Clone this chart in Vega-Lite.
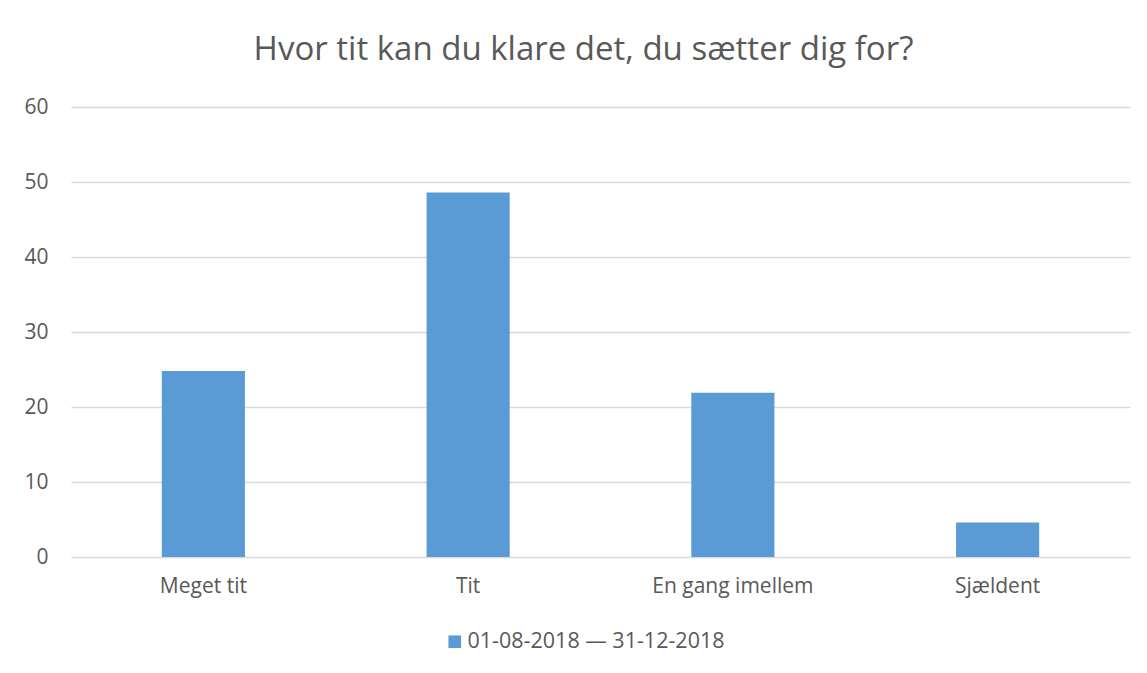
{
  "$schema": "https://vega.github.io/schema/vega-lite/v6.json",
  "autosize": "none",
  "width": 1059,
  "height": 450,
  "padding": {"left": 71, "top": 107, "right": 17, "bottom": 116},
  "background": "white",
  "title": {
    "text": "Hvor tit kan du klare det, du sætter dig for?",
    "font": "Open Sans",
    "fontSize": 33,
    "fontWeight": "normal",
    "color": "#595959",
    "anchor": "middle",
    "offset": 29,
    "dx": -17
  },
  "data": {
    "values": [
      {"svar": "Meget tit", "pct": 24.8, "periode": "01-08-2018 — 31-12-2018"},
      {"svar": "Tit", "pct": 48.6, "periode": "01-08-2018 — 31-12-2018"},
      {"svar": "En gang imellem", "pct": 21.9, "periode": "01-08-2018 — 31-12-2018"},
      {"svar": "Sjældent", "pct": 4.6, "periode": "01-08-2018 — 31-12-2018"}
    ]
  },
  "mark": {"type": "bar"},
  "encoding": {
    "x": {
      "field": "svar",
      "type": "nominal",
      "sort": null,
      "scale": {"paddingInner": 0.686, "paddingOuter": 0.343},
      "axis": {
        "title": null,
        "labelAngle": 0,
        "labelFont": "Open Sans",
        "labelFontSize": 21,
        "labelColor": "#595959",
        "labelPadding": 18,
        "labelLimit": 0,
        "domain": false,
        "ticks": false,
        "grid": false
      }
    },
    "y": {
      "field": "pct",
      "type": "quantitative",
      "scale": {"domain": [0, 60]},
      "axis": {
        "title": null,
        "values": [0, 10, 20, 30, 40, 50, 60],
        "labelFont": "Open Sans",
        "labelFontSize": 21,
        "labelColor": "#595959",
        "labelPadding": 23,
        "domain": false,
        "ticks": false,
        "grid": true,
        "gridColor": "#D9D9D9",
        "gridWidth": 1.3
      }
    },
    "color": {
      "field": "periode",
      "type": "nominal",
      "scale": {"range": ["#5B9BD5"]},
      "legend": {
        "title": null,
        "orient": "none",
        "legendX": 373,
        "legendY": 524,
        "symbolType": "square",
        "symbolSize": 160,
        "symbolStrokeWidth": 0,
        "labelFont": "Open Sans",
        "labelFontSize": 21.5,
        "labelColor": "#595959",
        "labelOffset": 2,
        "labelLimit": 0
      }
    }
  },
  "config": {"view": {"stroke": null}}
}
